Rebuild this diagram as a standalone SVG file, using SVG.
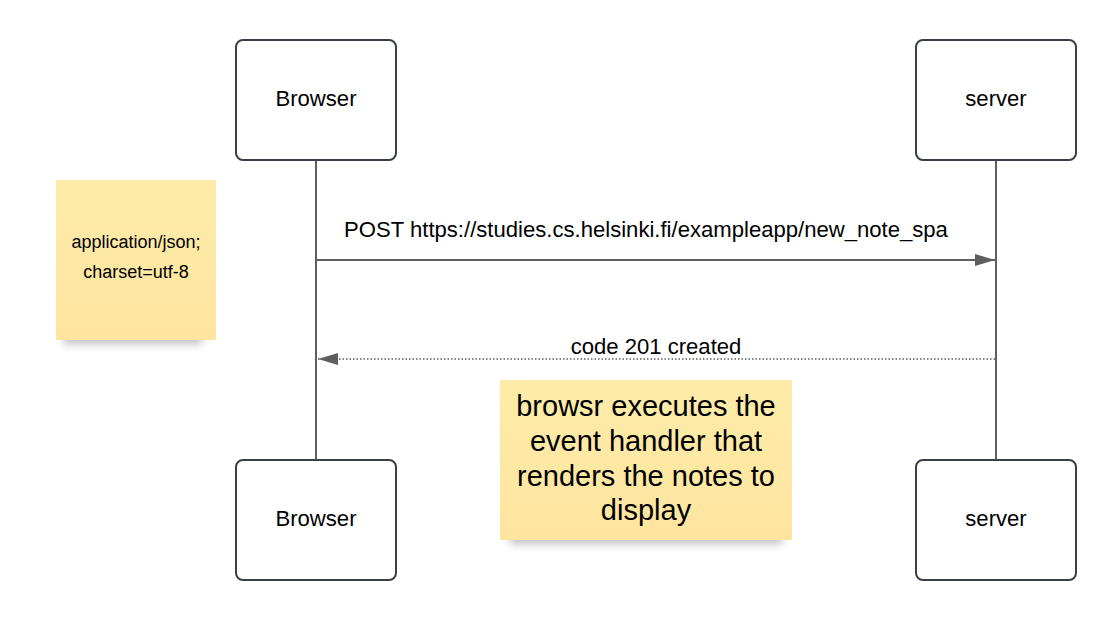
<svg xmlns="http://www.w3.org/2000/svg" width="1117" height="620" viewBox="0 0 1117 620">
<defs>
<style>
.box{fill:#fff;stroke:#3a3f47;stroke-width:2}
.life{stroke:#5e5e5e;stroke-width:2;fill:none}
.msg{stroke:#5e5e5e;stroke-width:2;fill:none}
.dot{stroke:#5e5e5e;stroke-width:1.5;stroke-dasharray:1.5 2;fill:none}
.lbl{font-family:"Liberation Sans",Arial,sans-serif;font-size:22.1px;fill:#000;text-anchor:middle}
.n1{font-family:"Liberation Sans",Arial,sans-serif;font-size:18px;fill:#000;text-anchor:middle}
.n2{font-family:"Liberation Sans",Arial,sans-serif;font-size:29px;fill:#000;text-anchor:middle}
.note{fill:url(#ng)}
</style>
<linearGradient id="ng" x1="0" y1="0" x2="0" y2="1">
<stop offset="0" stop-color="#fdeca8"/>
<stop offset="1" stop-color="#fee59f"/>
</linearGradient>
<filter id="sh" x="-20%" y="-20%" width="140%" height="160%">
<feGaussianBlur stdDeviation="4"/>
</filter>
<marker id="ah2" viewBox="0 0 20 12" refX="20" refY="6" markerWidth="20" markerHeight="12" markerUnits="userSpaceOnUse" orient="auto">
<path d="M0,0 L20,6 L0,12 z" fill="#5e5e5e"/>
</marker>
</defs>
<rect width="1117" height="620" fill="#fff"/>
<g id="connectors">
<line class="life" x1="316" y1="160" x2="316" y2="460"/>
<line class="life" x1="996" y1="160" x2="996" y2="460"/>
<line class="msg" x1="316" y1="260" x2="995" y2="260" marker-end="url(#ah2)"/>
<text class="lbl" x="646" y="237">POST https://studies.cs.helsinki.fi/exampleapp/new_note_spa</text>
<line class="dot" x1="995" y1="359" x2="318" y2="359" marker-end="url(#ah2)"/>
<text class="lbl" x="656" y="354">code 201 created</text>
</g>
<g id="browser-top">
<rect class="box" x="236" y="40" width="160" height="120" rx="7"/>
<text class="lbl" x="316" y="106">Browser</text>
</g>
<g id="server-top">
<rect class="box" x="916" y="40" width="160" height="120" rx="7"/>
<text class="lbl" x="996" y="106">server</text>
</g>
<g id="browser-bottom">
<rect class="box" x="236" y="460" width="160" height="120" rx="7"/>
<text class="lbl" x="316" y="526">Browser</text>
</g>
<g id="server-bottom">
<rect class="box" x="916" y="460" width="160" height="120" rx="7"/>
<text class="lbl" x="996" y="526">server</text>
</g>
<g id="note-content-type">
<rect x="64" y="326" width="138" height="18" fill="#888" opacity="0.55" filter="url(#sh)"/>
<rect class="note" x="56" y="180" width="160" height="160" rx="1"/>
<text class="n1" x="136" y="248">application/json;</text>
<text class="n1" x="136" y="278">charset=utf-8</text>
</g>
<g id="note-handler">
<rect x="510" y="526" width="272" height="18" fill="#888" opacity="0.55" filter="url(#sh)"/>
<rect class="note" x="500" y="380" width="292" height="160" rx="1"/>
<text class="n2" x="646" y="416">browsr executes the</text>
<text class="n2" x="646" y="451">event handler that</text>
<text class="n2" x="646" y="486">renders the notes to</text>
<text class="n2" x="646" y="520">display</text>
</g>
</svg>
